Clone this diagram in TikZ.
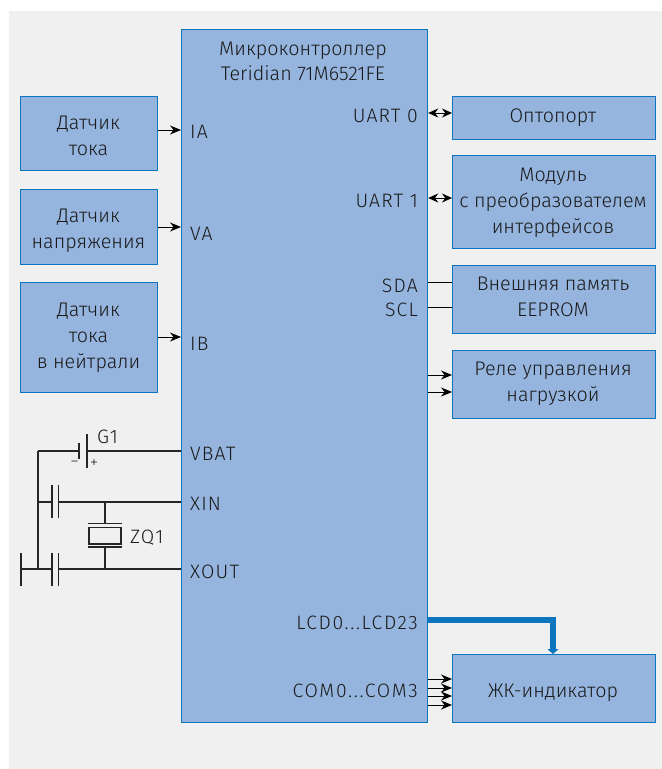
\documentclass[tikz,border=0pt]{standalone}
\usepackage{fontspec}
\setmainfont{Fira Sans Light}[BoldFont={Fira Sans}]
\newfontfamily\pinfont{Fira Sans Light}[LetterSpace=6]
\newfontfamily\buspinfont{Fira Sans Light}[LetterSpace=8.5]
\newfontfamily\signfont{DejaVu Sans}
\usetikzlibrary{arrows.meta}
\definecolor{pagegrey}{HTML}{F0F0F0}
\definecolor{boxfill}{HTML}{95B5DF}
\definecolor{boxline}{HTML}{0B76BE}
\definecolor{inkc}{HTML}{1A1A1A}
\tikzset{
  x=1bp,y=-1bp,
  block/.style={draw=boxline,fill=boxfill,line width=1.2bp,inner sep=0pt,anchor=north west},
  btext/.style={inner sep=0pt,align=center,text=inkc,font=\fontsize{19.8}{26}\selectfont},
  pin/.style={text=inkc,font=\pinfont\fontsize{19.5}{20}\selectfont,inner sep=0pt},
  buspin/.style={pin,font=\buspinfont\fontsize{19.5}{20}\selectfont},
  wire/.style={draw=black,line width=1bp},
  sig/.style={wire,-{Stealth[length=11bp,width=9bp]}},
  bisig/.style={wire,{Stealth[length=10bp,width=9bp]}-{Stealth[length=10bp,width=9bp]}},
  elem/.style={draw=black!85,line width=1.1bp},
  signtext/.style={inner sep=0pt,font=\signfont\fontsize{9.5}{10}\selectfont,text=inkc},
  bus/.style={draw=boxline,line width=5.5bp,-{Stealth[length=5bp,width=11bp,inset=0pt]}}
}
\begin{document}
\begin{tikzpicture}
\useasboundingbox (0,0) rectangle (662,769);
\fill[white] (0,0) rectangle (662,769);
\fill[pagegrey] (9,11) rectangle (662,769);
% blocks
\node[block,minimum width=246bp,minimum height=693bp] (mcu) at (181,29) {};
\node[block,minimum width=137bp,minimum height=74bp] (s1) at (20,96) {};
\node[block,minimum width=137bp,minimum height=75bp] (s2) at (20,189) {};
\node[block,minimum width=137bp,minimum height=110bp] (s3) at (20,282) {};
\node[block,minimum width=203bp,minimum height=43bp] (r1) at (452,96) {};
\node[block,minimum width=203bp,minimum height=93bp] (r2) at (452,155) {};
\node[block,minimum width=203bp,minimum height=68bp] (r3) at (452,265) {};
\node[block,minimum width=203bp,minimum height=68bp] (r4) at (452,350) {};
\node[block,minimum width=203bp,minimum height=68bp] (r5) at (452,654) {};
% block texts
\node[btext,font=\fontsize{19.8}{25}\selectfont] (mcut) at (303,61) {Микроконтроллер\\Teridian 71M6521FE};
\node[btext] (s1t) at (88.5,136.3) {Датчик\\тока};
\node[btext] (s2t) at (88.5,230.5) {Датчик\\напряжения};
\node[btext] (s3t) at (88.5,337.5) {Датчик\\тока\\в нейтрали};
\node[btext] (r1t) at (553,118) {Оптопорт};
\node[btext] (r2t) at (553,202.5) {Модуль\\с преобразователем\\интерфейсов};
\node[btext] (r3t) at (553,296.5) {Внешняя память\\EEPROM};
\node[btext] (r4t) at (553,383.5) {Реле управления\\нагрузкой};
\node[btext] (r5t) at (553,693) {ЖК-индикатор};
% pin labels
\node[pin,anchor=west] (ia) at (190,132) {IA};
\node[pin,anchor=west] (va) at (190,233.5) {VA};
\node[pin,anchor=west] (ib) at (190,343.5) {IB};
\node[pin,anchor=west] (vbat) at (190,454) {VBAT};
\node[pin,anchor=west] (xin) at (190,504) {XIN};
\node[pin,anchor=west] (xout) at (190,572) {XOUT};
\node[pin,anchor=east] (u0) at (418,116) {UART 0};
\node[pin,anchor=east] (u1) at (418,201) {UART 1};
\node[pin,anchor=east] (sda) at (418,285.5) {SDA};
\node[pin,anchor=east] (scl) at (418,309.5) {SCL};
\node[buspin,anchor=east] (lcd) at (418,623) {LCD0...LCD23};
\node[buspin,anchor=east] (com) at (418,691) {COM0...COM3};
% connectors
\draw[sig] (s1.east |- 0,130) -- (mcu.west |- 0,130);
\draw[sig] (s2.east |- 0,227) -- (mcu.west |- 0,227);
\draw[sig] (s3.east |- 0,337) -- (mcu.west |- 0,337);
\draw[bisig] (mcu.east |- 0,113) -- (r1.west |- 0,113);
\draw[bisig] (mcu.east |- 0,198) -- (r2.west |- 0,198);
\draw[wire] (mcu.east |- 0,282) -- (r3.west |- 0,282);
\draw[wire] (mcu.east |- 0,307) -- (r3.west |- 0,307);
\draw[sig] (mcu.east |- 0,375) -- (r4.west |- 0,375);
\draw[sig] (mcu.east |- 0,392) -- (r4.west |- 0,392);
\draw[sig] (mcu.east |- 0,679) -- (r5.west |- 0,679);
\draw[sig] (mcu.east |- 0,688) -- (r5.west |- 0,688);
\draw[sig] (mcu.east |- 0,696) -- (r5.west |- 0,696);
\draw[sig] (mcu.east |- 0,705) -- (r5.west |- 0,705);
\draw[bus] (mcu.east |- 0,620) -- (553,620) -- (r5.north -| 553,0);
% battery
\coordinate (bl) at (79,451);
\coordinate (br) at (87,451);
\coordinate (jtop) at (38,451);
\coordinate (jmid) at (38,502);
\coordinate (jbot) at (38,569);
\draw[elem] (jtop) -- (bl);
\draw[elem] (br) -- (mcu.west |- br);
\draw[elem] (79,443) -- (79,459);
\draw[elem] (87,434) -- (87,468);
\node[signtext] (bm) at (74.5,463) {−};
\node[signtext] (bp) at (94,463) {+};
\node[pin,anchor=west] (g1) at (97,437) {G1};
% rail
\draw[elem] (jtop) -- (jbot);
% XIN capacitor
\draw[elem] (jmid) -- (52,502);
\draw[elem] (52,485) -- (52,518);
\draw[elem] (58.5,485) -- (58.5,518);
\draw[elem] (58.5,502) -- (mcu.west |- 0,502);
% XOUT capacitor
\draw[elem] (21,569) -- (52,569);
\draw[elem] (21,553) -- (21,586);
\draw[elem] (52,553) -- (52,586);
\draw[elem] (58.5,553) -- (58.5,586);
\draw[elem] (58.5,569) -- (mcu.west |- 0,569);
% crystal
\draw[elem] (105,502) -- (105,523);
\draw[elem] (88,523.5) -- (122,523.5);
\draw[elem] (89,527.5) rectangle (121,544);
\draw[elem] (88,547) -- (122,547);
\draw[elem] (105,547) -- (105,569);
\node[pin,anchor=west] (zq) at (130,538) {ZQ1};
\end{tikzpicture}
\end{document}
